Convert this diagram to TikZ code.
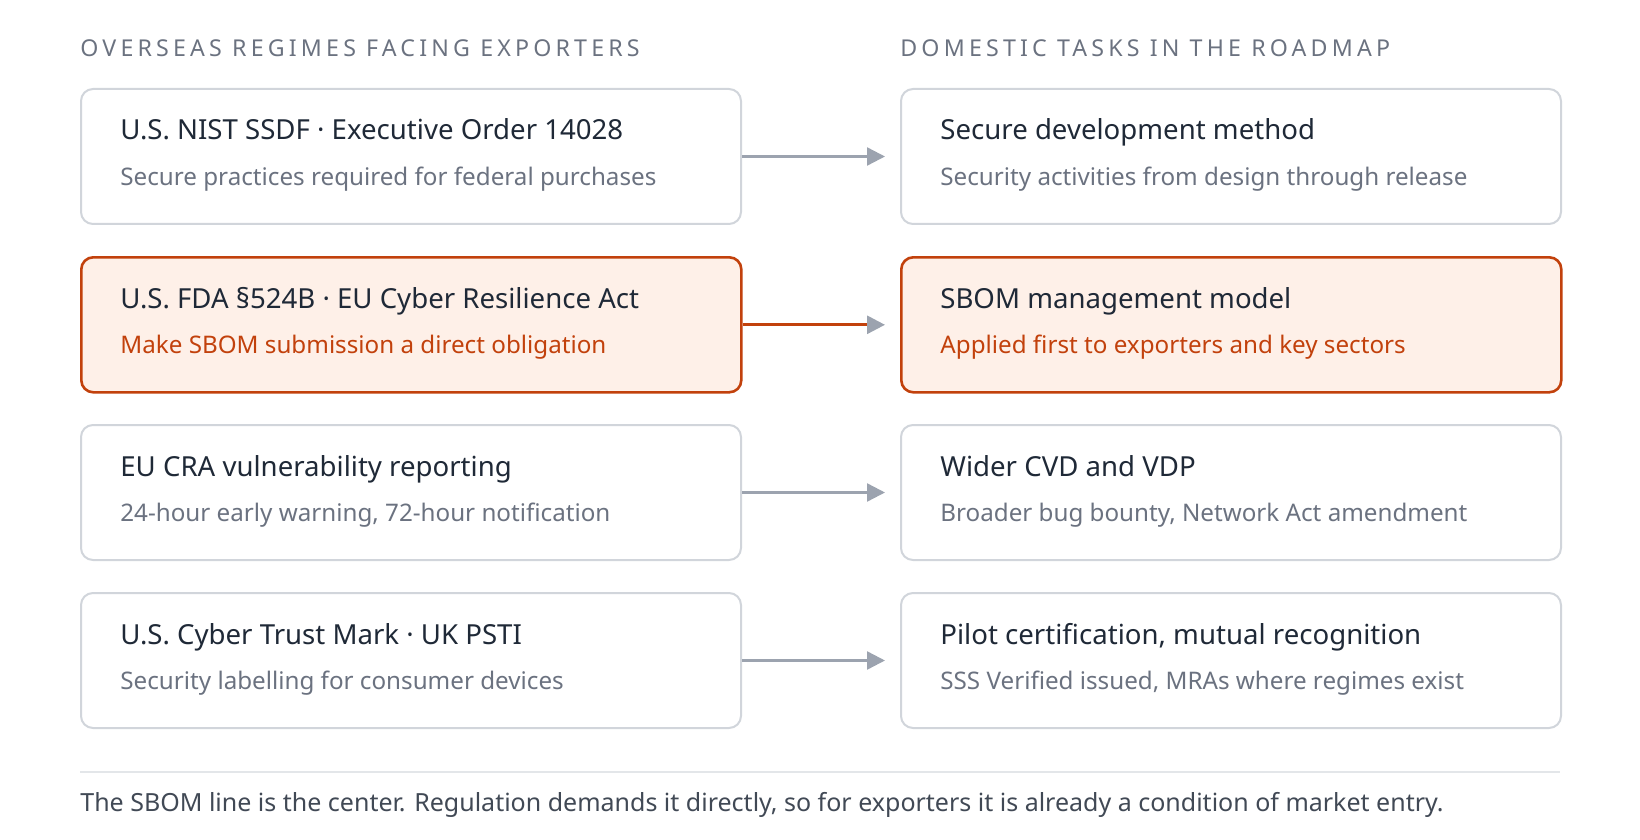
\documentclass[tikz,border=0pt]{standalone}
\usepackage{fontspec}
\setmainfont{Noto Sans}
\usetikzlibrary{arrows.meta, positioning}
\definecolor{ink}{HTML}{1F2937}
\definecolor{muted}{HTML}{6B7280}
\definecolor{rule}{HTML}{D1D5DB}
\definecolor{arr}{HTML}{9CA3AF}
\definecolor{hot}{HTML}{C2410C}
\definecolor{hotfill}{HTML}{FEF0E8}
\tikzset{
  box/.style={draw=rule, line width=1pt, rounded corners=6pt, fill=white,
    minimum width=330pt, minimum height=67.5pt, anchor=north west},
  hotbox/.style={box, draw=hot, fill=hotfill, line width=1.3pt},
  ttl/.style={anchor=base west, inner sep=0pt, text=ink, font=\fontsize{13.8}{16}\selectfont},
  sub/.style={anchor=base west, inner sep=0pt, text=muted, font=\fontsize{12.1}{14}\selectfont},
  hdr/.style={anchor=base west, inner sep=0pt, text=muted,
    font=\fontsize{11.6}{14}\selectfont\addfontfeatures{LetterSpace=18}},
  link/.style={draw=arr, line width=1.2pt, -{Triangle[length=9pt,width=9pt,fill=arr,color=arr]}},
}
\begin{document}
\begin{tikzpicture}[x=0.5pt, y=-0.5pt]
  \useasboundingbox (0,0) rectangle (1640,840);

  \node[hdr] (hl) at (80,57) {OVERSEAS REGIMES FACING EXPORTERS};
  \node[hdr] (hr) at (900,57) {DOMESTIC TASKS IN THE ROADMAP};

  % rows
  \foreach \y/\a/\b/\c/\d in {
    88/{U.S. NIST SSDF · Executive Order 14028}/{Secure practices required for federal purchases}/{Secure development method}/{Security activities from design through release},
    424/{EU CRA vulnerability reporting}/{24-hour early warning, 72-hour notification}/{Wider CVD and VDP}/{Broader bug bounty, Network Act amendment},
    592/{U.S. Cyber Trust Mark · UK PSTI}/{Security labelling for consumer devices}/{Pilot certification, mutual recognition}/{SSS Verified issued, MRAs where regimes exist}}{
    \node[box] (l\y) at (80,\y) {};
    \node[box] (r\y) at (900,\y) {};
    \node[ttl] at (120,\y+52) {\a};
    \node[sub] at (120,\y+97) {\b};
    \node[ttl] at (940,\y+52) {\c};
    \node[sub] at (940,\y+97) {\d};
    \draw[link] (l\y.east) -- ([xshift=-7.5pt]r\y.west);
  }

  % highlighted row
  \node[hotbox] (lsbom) at (80,256) {};
  \node[hotbox] (rsbom) at (900,256) {};
  \node[ttl] at (120,308) {U.S. FDA §524B · EU Cyber Resilience Act};
  \node[sub, text=hot] at (120,353) {Make SBOM submission a direct obligation};
  \node[ttl] at (940,308) {SBOM management model};
  \node[sub, text=hot] at (940,353) {Applied first to exporters and key sectors};
  \draw[link, draw=hot, line width=1.5pt] (lsbom.east) -- ([xshift=-7.5pt]rsbom.west);

  % footer
  \coordinate (fa) at (80,772);
  \coordinate (fb) at (1560,772);
  \draw[draw=rule!60, line width=1pt] (fa) -- (fb);
  \node[sub, text=ink!85, font=\fontsize{12.5}{15}\selectfont] (foot) at (80,811)
    {The SBOM line is the center. Regulation demands it directly, so for exporters it is already a condition of market entry.};
\end{tikzpicture}
\end{document}
